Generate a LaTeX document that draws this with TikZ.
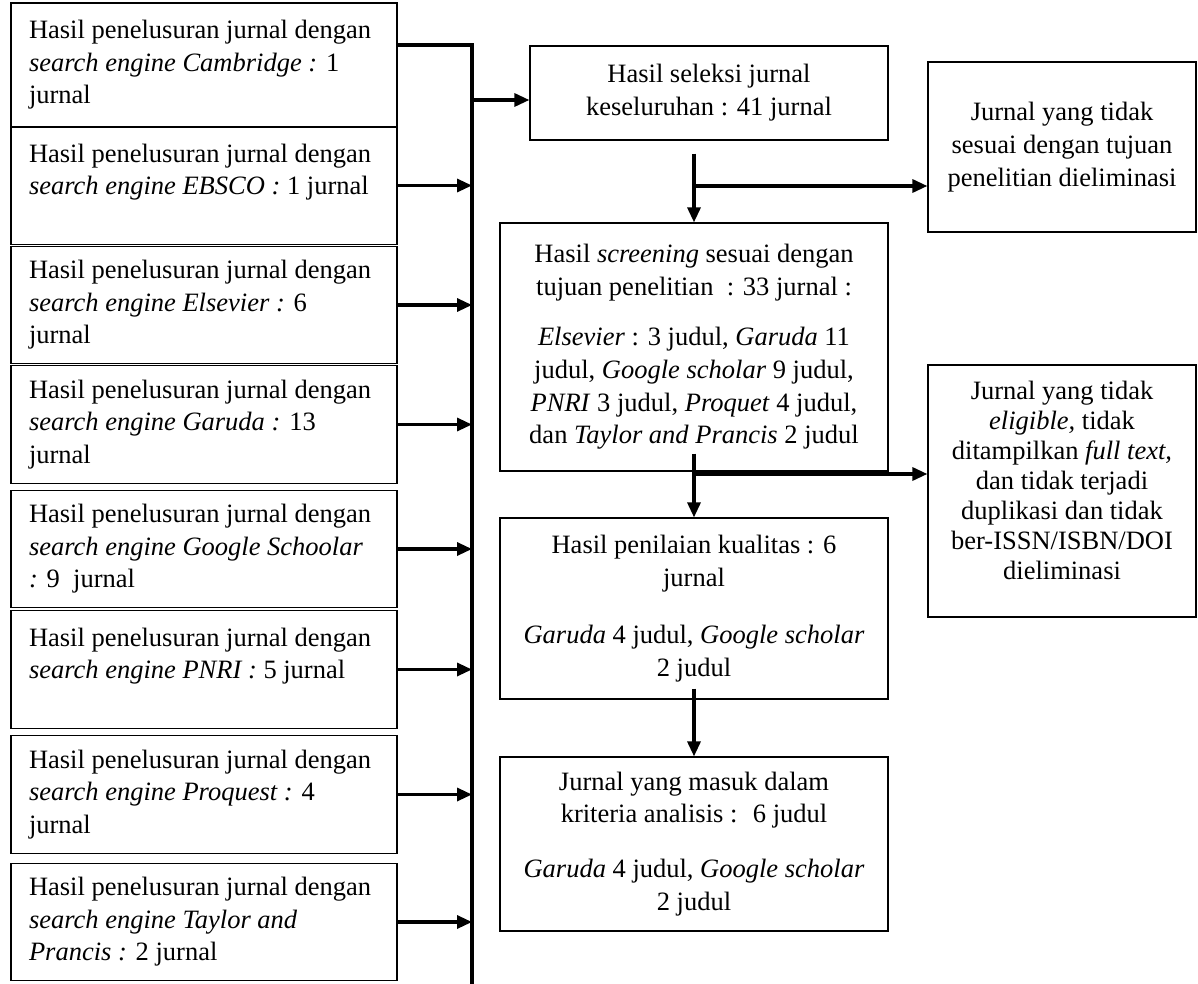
\documentclass[tikz,border=0pt]{standalone}
\usepackage{fontspec}
\setmainfont{Liberation Serif}
\usetikzlibrary{arrows.meta}
\begin{document}
\begin{tikzpicture}[x=0.5pt, y=-0.5pt, line join=miter,
 >={Triangle[length=7.5pt,width=6.5pt]},
 src/.style={draw, line width=0.6pt, text width=175pt, inner xsep=9pt, inner ysep=0pt, align=flush left, minimum height=58.75pt, font=\fontsize{13.25pt}{16.25pt}\selectfont},
 res/.style={draw, line width=0.6pt, inner sep=0pt, align=center, font=\fontsize{13.25pt}{16.4pt}\selectfont},
 arr/.style={->, line width=1.6pt}]
 \useasboundingbox (0,0) rectangle (1198,984);
 \def\busx{472}
 \node[src, minimum height=62pt] (cam) at (204,65) {Hasil penelusuran jurnal dengan\\ \textit{search engine Cambridge :} 1\\ jurnal};
 \node[src] (ebs) at (204,185.5) {Hasil penelusuran jurnal dengan\\ \textit{search engine EBSCO :} 1 jurnal\\ \mbox{}};
 \node[src] (els) at (204,305) {Hasil penelusuran jurnal dengan\\ \textit{search engine Elsevier :} 6\\ jurnal};
 \node[src] (gar) at (204,424.5) {Hasil penelusuran jurnal dengan\\ \textit{search engine Garuda :} 13\\ jurnal};
 \node[src] (goo) at (204,549) {Hasil penelusuran jurnal dengan\\ \textit{search engine Google Schoolar}\\ \textit{:} 9 \ jurnal};
 \node[src] (pnr) at (204,669.5) {Hasil penelusuran jurnal dengan\\ \textit{search engine PNRI :} 5 jurnal\\ \mbox{}};
 \node[src] (prq) at (204,794.5) {Hasil penelusuran jurnal dengan\\ \textit{search engine Proquest :} 4\\ jurnal};
 \node[src] (tay) at (204,922) {Hasil penelusuran jurnal dengan\\ \textit{search engine Taylor and}\\ \textit{Prancis :} 2 jurnal};

 \node[res, minimum width=179pt, minimum height=47pt] (sel) at (709,93) {Hasil seleksi jurnal\\ keseluruhan : 41 jurnal};
 \node[res, minimum width=134pt, minimum height=85pt] (ses) at (1062,147) {Jurnal yang tidak\\ sesuai dengan tujuan\\ penelitian dieliminasi};
 \node[res, minimum width=194pt, minimum height=124pt] (scr) at (694,347) {Hasil \textit{screening} sesuai dengan\\ tujuan penelitian \ : 33 jurnal :\\[8.5pt] \textit{Elsevier} : 3 judul, \textit{Garuda} 11\\ judul, \textit{Google scholar} 9 judul,\\ \textit{PNRI} 3 judul, \textit{Proquet} 4 judul,\\ dan \textit{Taylor and Prancis} 2 judul};
 \node[res, minimum width=134pt, minimum height=126pt, font=\fontsize{13.25pt}{15pt}\selectfont] (eli) at (1062,491) {Jurnal yang tidak\\ \textit{eligible,} tidak\\ ditampilkan \textit{full text,}\\ dan tidak terjadi\\ duplikasi dan tidak\\ ber-ISSN/ISBN/DOI\\ dieliminasi\\[-4pt]\mbox{}};
 \node[res, minimum width=194pt, minimum height=90.5pt] (nil) at (694,608.5) {Hasil penilaian kualitas : 6\\ jurnal\\[12pt] \textit{Garuda} 4 judul, \textit{Google scholar}\\ 2 judul};
 \node[res, minimum width=194pt, minimum height=87pt] (fin) at (694,844) {Jurnal yang masuk dalam\\ kriteria analisis : \ 6 judul\\[11pt] \textit{Garuda} 4 judul, \textit{Google scholar}\\ 2 judul};

 \coordinate (bus) at (\busx,45);
 \coordinate (busend) at (\busx,984);
 \draw[line width=2pt] (cam.east |- bus) -- (bus) -- (busend);
 \draw[arr] (ebs.east) -- (ebs.east -| bus);
 \draw[arr] (els.east) -- (els.east -| bus);
 \draw[arr] (gar.east) -- (gar.east -| bus);
 \draw[arr] (goo.east) -- (goo.east -| bus);
 \draw[arr] (pnr.east) -- (pnr.east -| bus);
 \draw[arr] (prq.east) -- (prq.east -| bus);
 \draw[arr] (tay.east) -- (tay.east -| bus);
 \draw[arr] ([yshift=-3.5pt]sel.west -| bus) -- ([yshift=-3.5pt]sel.west);

 \coordinate (j1) at (694,186);
 \coordinate (j2) at (694,474);
 \draw[arr] ([yshift=-6.5pt]sel.south -| scr.north) -- (scr.north);
 \draw[arr] (j1) -- (j1 -| ses.west);
 \draw[arr] ([yshift=9pt]scr.south) -- (nil.north);
 \draw[arr] (j2) -- (j2 -| eli.west);
 \draw[arr] ([yshift=5.5pt]nil.south) -- (fin.north);
\end{tikzpicture}
\end{document}
